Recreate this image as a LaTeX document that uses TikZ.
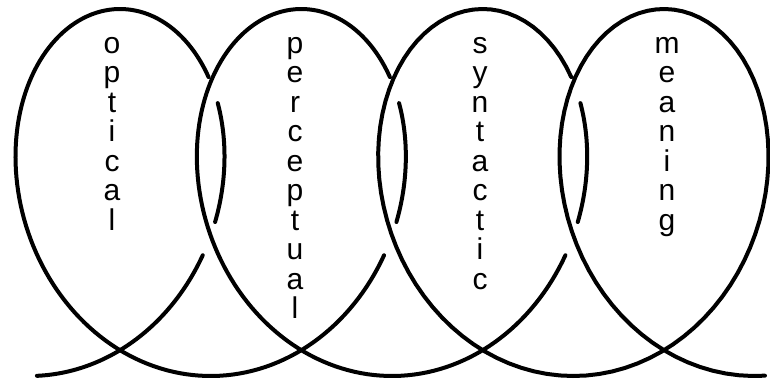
\documentclass[tikz,border=0pt]{standalone}
\usepackage{fontspec}
\setmainfont{Liberation Sans}
\usepackage{tikz}
\newcommand{\WordColumn}[3]{%
  \node[wordcol] (#1) at (#2,37) {#3};
}

\begin{document}
\begin{tikzpicture}[x=1pt,y=-1pt,
  declare function={
    coilx(\s)=120+28.86*\s-147*sin(\s r);
    coily(\s)=192.5-183.5*cos(\s r);
  },
  coil/.style={line width=4pt, line cap=round},
  wordcol/.style={anchor=north, inner sep=0pt, align=center,
    font=\fontsize{30pt}{29.5pt}\selectfont}]
  \useasboundingbox (0,0) rectangle (770,385);
  % coil pieces, broken where a strand runs behind the next loop
  \foreach \a/\b in {-3.0986/-1.9184, -1.7323/-1.0614, -0.8904/4.3648,
                     4.5509/5.2218, 5.3928/10.6480, 10.8341/11.5050,
                     11.6760/22.0511}
    \draw[coil] plot[domain=\a:\b, samples=140, variable=\t]
      ({coilx(\t)},{coily(\t)});
  \WordColumn{optical}{112}{o\\p\\t\\i\\c\\a\\l}
  \WordColumn{perceptual}{295}{p\\e\\r\\c\\e\\p\\t\\u\\a\\l}
  \WordColumn{syntactic}{480}{s\\y\\n\\t\\a\\c\\t\\i\\c}
  \WordColumn{meaning}{667}{m\\e\\a\\n\\i\\n\\g}
\end{tikzpicture}
\end{document}
